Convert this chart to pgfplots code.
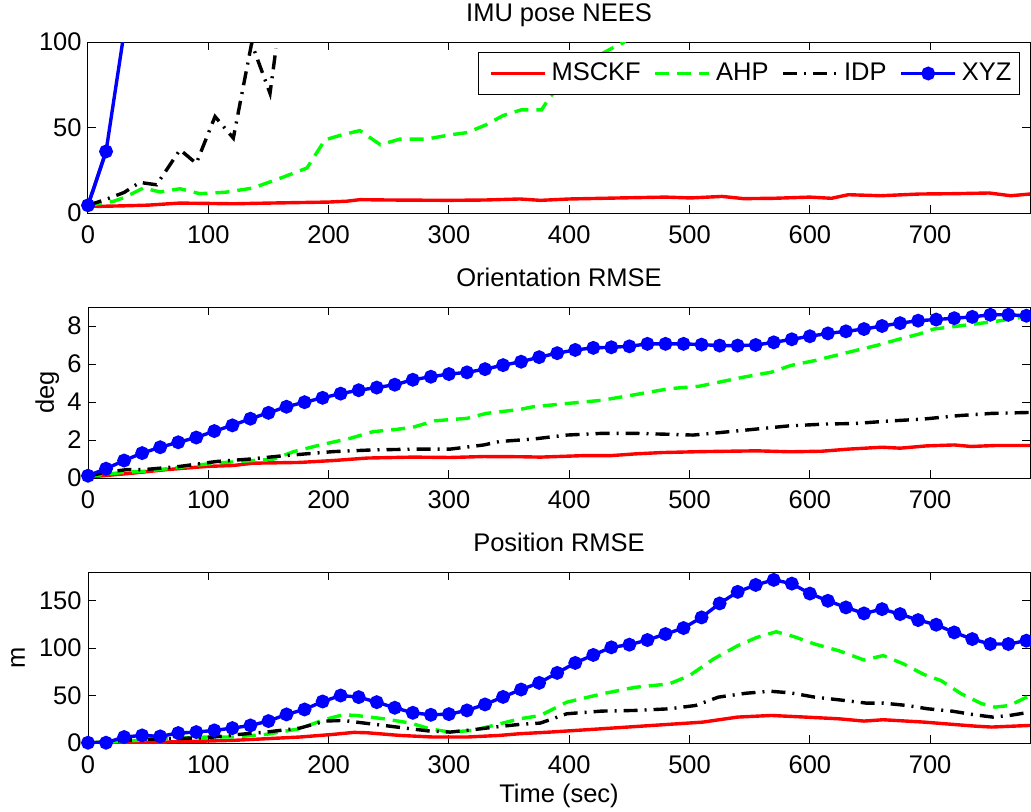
\documentclass[border=0pt]{standalone}
\usepackage{fontspec}
\setmainfont{Liberation Sans}
\usepackage{pgfplots}
\pgfplotsset{compat=1.18}
\definecolor{mred}{rgb}{1,0,0}
\definecolor{mgreen}{rgb}{0,1,0}
\definecolor{mblue}{rgb}{0,0,1}
\pgfplotsset{
  panel/.style={
    scale only axis, width=471pt, height=85.5pt,
    xmin=0, xmax=783,
    xtick={0,100,...,700},
    tick align=inside,
    axis line style={line width=0.5pt},
    every tick/.style={black, line width=0.5pt},
    major tick length=4pt,
    /pgf/number format/assume math mode=true,
    /pgf/number format/1000 sep={},
    xticklabel style={inner sep=0pt, yshift=-6pt},
    yticklabel style={inner sep=0pt, xshift=-3pt},
    every axis title/.style={at={(0.5,1)}, anchor=base, yshift=10.5pt, inner sep=0pt},
    every axis y label/.style={rotate=90, anchor=base, inner sep=0pt},
    every axis x label/.style={at={(axis description cs:0.5,0)}, anchor=base, yshift=-29.5pt, inner sep=0pt},
  },
  lm/.style={mred, line width=1.7pt},
  la/.style={mgreen, line width=1.7pt, dash pattern=on 7pt off 4pt},
  li/.style={black, line width=1.7pt, dash pattern=on 7pt off 3.5pt on 1pt off 3.5pt},
  lx/.style={mblue, line width=1.7pt, mark=*, mark size=2.6pt, mark options={solid, fill=mblue, draw=mblue}},
}
\begin{document}
\begin{tikzpicture}[font=\fontsize{12.75}{15}\selectfont]
\useasboundingbox (0,0) rectangle (515.5pt,405.5pt);
% ---------------- top -----------------
\begin{axis}[panel, at={(44pt,299pt)}, anchor=south west,
  ymin=0, ymax=100, ytick={0,50,100},
  title={IMU pose NEES},
  legend columns=4,
  legend style={at={(1,1)}, anchor=north east, xshift=-5pt, yshift=-5pt,
    draw=black, line width=0.5pt, inner xsep=1.5pt, inner ysep=0.3pt,
    nodes={inner xsep=2.5pt, inner ysep=5pt},
    /tikz/every even column/.append style={column sep=0pt}},
  legend image code/.code={\path (-4pt,0pt); \draw[mark repeat=2, mark phase=2] plot coordinates {(0pt,0pt)(13.5pt,0pt)(27pt,0pt)};},
]
\addplot[lm] coordinates {(0,4)(10,3.9)(30,4.2)(50,4.6)(76,5.8)(100,5.6)(121,5.4)(150,5.8)(175,6.1)(200,6.4)(215,6.9)(226,7.8)(250,7.6)(300,7.4)(330,7.6)(359,8.2)(376,7.4)(400,8.2)(442,8.8)(480,9.3)(501,8.8)(527,9.7)(545,8.4)(570,8.6)(600,9.3)(618,8.6)(632,10.7)(659,10.1)(691,11.1)(720,11.3)(749,11.7)(767,10.1)(783,11.1)};
\addlegendentry{MSCKF}
\addplot[la] coordinates {(0,4.5)(15,6)(21,6.8)(30,9)(46,14.6)(60,12.3)(76.5,14.2)(93,11.3)(115,12.2)(137,14.6)(160,20.4)(182,26.3)(197,42.8)(210,45.5)(226,48.2)(243,39.9)(259,43.2)(281,43.2)(301,45.7)(315,47)(331,51.6)(345,57)(360,60.3)(377,60.3)(384,68)(397,76.8)(410,86.6)(438,97.3)(445,99.6)(460,110)};
\addlegendentry{AHP}
\addplot[li] coordinates {(0,4.5)(15,8)(30,12)(43,17.9)(57,16.5)(76.5,37)(90,29)(105.6,56.4)(120.8,43.8)(136,99.2)(151.3,70)(156.3,96.3)};
\addlegendentry{IDP}
\addplot[mblue, line width=1.7pt, forget plot] coordinates {(0,4.5)(15,36)(30,105.6)(45,250)};
\addplot[lx] coordinates {(0,4.5)(15,36)};
\addlegendentry{XYZ}
\end{axis}
% ---------------- middle -----------------
\begin{axis}[panel, at={(44pt,166.5pt)}, anchor=south west,
  ymin=0, ymax=9, ytick={0,2,4,6,8},
  title={Orientation RMSE},
  ylabel={deg}, ylabel style={at={(axis description cs:-0.0361,0.5)}},
]
\addplot[lm] coordinates {(0,0.05)(38,0.26)(65,0.44)(99,0.61)(121,0.66)(137,0.78)(176,0.82)(204,0.92)(232,1.05)(270,1.10)(301,1.08)(329,1.13)(359,1.12)(376,1.10)(413,1.18)(435,1.18)(455,1.27)(477,1.34)(511,1.39)(556,1.43)(584,1.38)(610,1.41)(632,1.52)(660,1.62)(675,1.57)(697,1.69)(720,1.74)(734,1.66)(754,1.71)(783,1.71)};
\addplot[la] coordinates {(0,0.09)(15,0.2)(30,0.3)(46,0.35)(60,0.45)(75,0.55)(93,0.7)(110,0.8)(137,0.92)(154,0.99)(171,1.39)(193,1.74)(218,2.09)(237,2.44)(255,2.55)(270,2.67)(288,3.01)(315,3.14)(331,3.40)(359,3.61)(370,3.75)(398,3.92)(427,4.09)(455,4.39)(483,4.70)(508,4.83)(525,5.05)(545,5.31)(568,5.57)(584,5.92)(604,6.18)(638,6.71)(655,6.97)(675,7.32)(691,7.58)(703,7.84)(725,8.01)(754,8.24)(776,8.45)(783,8.54)};
\addplot[li] coordinates {(0,0.1)(15,0.3)(32,0.44)(46,0.44)(75,0.6)(107,0.87)(135,1.0)(162,1.17)(204,1.39)(237,1.48)(273,1.52)(301,1.52)(329,1.74)(342,1.92)(370,2.05)(398,2.26)(427,2.35)(455,2.35)(483,2.30)(503,2.26)(525,2.39)(553,2.56)(582,2.74)(613,2.84)(638,2.87)(666,3.00)(694,3.10)(723,3.28)(751,3.40)(783,3.45)};
\addplot[lx] coordinates {(0,0.12)(15,0.49)(30,0.92)(45,1.31)(60,1.62)(75,1.88)(90,2.13)(105,2.47)(120,2.77)(135,3.12)(150,3.43)(165,3.75)(180,3.99)(195,4.22)(210,4.44)(225,4.62)(240,4.76)(255,4.91)(270,5.17)(285,5.33)(300,5.47)(315,5.56)(330,5.73)(345,5.94)(360,6.12)(375,6.36)(390,6.57)(405,6.74)(420,6.85)(435,6.88)(450,6.93)(465,7.06)(480,7.06)(495,7.06)(510,7.02)(525,6.97)(540,6.97)(555,7.00)(570,7.14)(585,7.30)(600,7.46)(615,7.61)(630,7.72)(645,7.84)(660,8.00)(675,8.15)(690,8.28)(705,8.34)(720,8.41)(735,8.48)(750,8.59)(765,8.59)(780,8.54)};
\end{axis}
% ---------------- bottom -----------------
\begin{axis}[panel, at={(44pt,34pt)}, anchor=south west,
  ymin=0, ymax=180, ytick={0,50,100,150},
  title={Position RMSE},
  ylabel={m}, ylabel style={at={(axis description cs:-0.0669,0.5)}},
  xlabel={Time (sec)},
]
\addplot[lm] coordinates {(0,0)(65,1)(121,2.8)(176,6.3)(204,9.1)(221,11.2)(232,10.8)(259,8.0)(287,6.3)(315,6.3)(342,8.0)(359,9.8)(384,11.5)(427,15.0)(469,18.5)(511,22.0)(540,27.3)(568,29.0)(596,27.3)(624,25.5)(645,23.1)(661,24.5)(695,22.0)(737,17.8)(751,16.8)(783,18.5)};
\addplot[la] coordinates {(0,0)(30,2)(65,4.5)(99,6.3)(121,6.3)(148,9.1)(176,15.0)(196,24.5)(212,29.7)(223,29.0)(246,25.5)(268,21.0)(284,15.0)(301,11.5)(320,13.3)(337,18.5)(359,25.5)(376,29.0)(398,43.0)(427,51.7)(455,58.7)(483,62.2)(500,71.0)(520,88.5)(540,102.4)(556,111.2)(572,117.1)(587,111.9)(604,104.2)(624,97.2)(645,87.4)(661,92.0)(678,83.2)(695,72.0)(709,65.7)(726,51.7)(743,41.3)(754,37.8)(766,39.5)(783,50.0)};
\addplot[li] coordinates {(0,0)(38,3.5)(65,4.5)(99,5.6)(126,9.1)(148,11.5)(176,15.7)(197,23.1)(212,23.8)(223,22.0)(246,18.5)(268,15.0)(284,12.6)(301,11.5)(320,14.0)(343,17.5)(359,19.6)(376,21.0)(398,30.8)(427,33.6)(455,34.3)(483,36.0)(505,39.5)(524,48.3)(547,52.4)(567,54.5)(584,52.8)(604,48.3)(624,45.5)(647,42.0)(661,42.0)(681,39.5)(698,36.0)(718,33.6)(737,29.7)(752,27.3)(766,29.0)(783,32.5)};
\addplot[lx] coordinates {(0,0.3)(15,0.3)(30,6.3)(45,8.0)(60,7.0)(75,10.5)(90,11.5)(105,13.3)(120,15.7)(135,18.5)(150,23.1)(165,30.1)(180,35.3)(195,43.7)(210,50.0)(225,48.3)(240,43.0)(255,37.1)(270,31.8)(285,29.7)(300,30.4)(315,34.3)(330,40.6)(345,48.5)(360,56.3)(375,63.3)(390,73.8)(405,84.3)(420,92.7)(435,100.7)(450,103.5)(465,108.4)(480,114.7)(495,121.0)(510,132.2)(525,146.9)(540,159.1)(555,166.4)(570,171.7)(585,167.8)(600,157.3)(615,149.7)(630,142.7)(645,136.4)(660,140.9)(675,135.7)(690,129.4)(705,124.5)(720,116.4)(735,109.4)(750,104.2)(765,104.2)(780,107.7)};
\end{axis}
\end{tikzpicture}
\end{document}
